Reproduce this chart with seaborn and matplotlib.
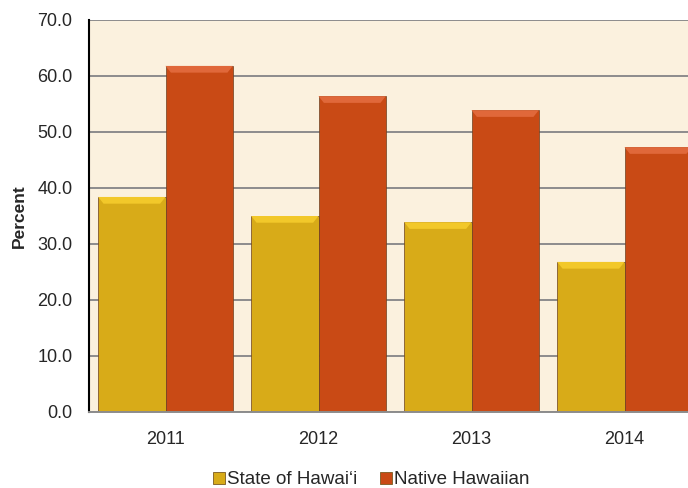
import pandas as pd
import seaborn as sns
import matplotlib.pyplot as plt
from matplotlib.patches import Polygon

# data
years = ["2011", "2012", "2013", "2014"]
state_hawaii = [38.4, 35.0, 33.9, 26.8]
native_hawaiian = [61.8, 56.4, 53.9, 47.3]
series_names = ["State of Hawai\u2018i", "Native Hawaiian"]
colors = ["#D8AB18", "#C94A15"]
top_colors = ["#F2C82A", "#E0683A"]

df = pd.DataFrame({
    "year": years * 2,
    "percent": state_hawaii + native_hawaiian,
    "group": [series_names[0]] * 4 + [series_names[1]] * 4,
})

sns.set_theme(style="white")
plt.rcParams["font.family"] = ["Liberation Sans", "DejaVu Sans"]

fig = plt.figure(figsize=(6.88, 4.88), dpi=100)
# axes run past the right edge, as in the cropped original
ax = fig.add_axes([89 / 688, 76 / 488, 612 / 688, 392 / 488])
ax.set_facecolor("#FBF1DE")

sns.barplot(data=df, x="year", y="percent", hue="group", palette=colors,
            saturation=1, width=0.88, gap=0, ax=ax, edgecolor="#6a4020",
            linewidth=0.5, zorder=3, legend=False)

ax.set_xlim(-0.5, 3.5)
ax.set_ylim(0, 70)

# bevelled top face on each bar (first 4 patches = State, next 4 = Native)
bev_h = 1.2
for i, bar in enumerate(ax.patches[:8]):
    x0, w, h = bar.get_x(), bar.get_width(), bar.get_height()
    c = top_colors[i // 4]
    inset = w * 0.08
    poly = Polygon([(x0, h), (x0 + w, h), (x0 + w - inset, h - bev_h), (x0 + inset, h - bev_h)],
                   closed=True, facecolor=c, edgecolor="none", zorder=4)
    ax.add_patch(poly)

ax.set_yticks(range(0, 71, 10))
ax.set_yticklabels([f"{v:.1f}" for v in range(0, 71, 10)], fontsize=13)
ax.tick_params(axis="x", length=0, labelsize=13, pad=14)
ax.tick_params(axis="y", length=0, pad=12)
ax.yaxis.grid(True, color="#8c8c8c", linewidth=1.4, zorder=1)
ax.set_axisbelow(True)

ax.set_xlabel("")
ax.set_ylabel("Percent", fontsize=12.5, fontweight="bold", labelpad=7)

for side in ["top", "right"]:
    ax.spines[side].set_visible(False)
ax.spines["left"].set_color("#000000")
ax.spines["left"].set_linewidth(1.5)
ax.spines["bottom"].set_color("#8c8c8c")
ax.spines["bottom"].set_linewidth(1.4)
ax.spines["bottom"].set_zorder(5)

handles = [plt.Rectangle((0, 0), 1, 1, facecolor=c, edgecolor="#7a5a20", linewidth=0.6)
           for c in colors]
fig.legend(handles, series_names, loc="center", bbox_to_anchor=(371 / 688, 8 / 488),
           ncol=2, frameon=False, fontsize=13.5, handlelength=0.65, handleheight=0.65,
           handletextpad=0.1, columnspacing=1.2, borderpad=0)

plt.savefig("out.png", dpi=100)
plt.close()
